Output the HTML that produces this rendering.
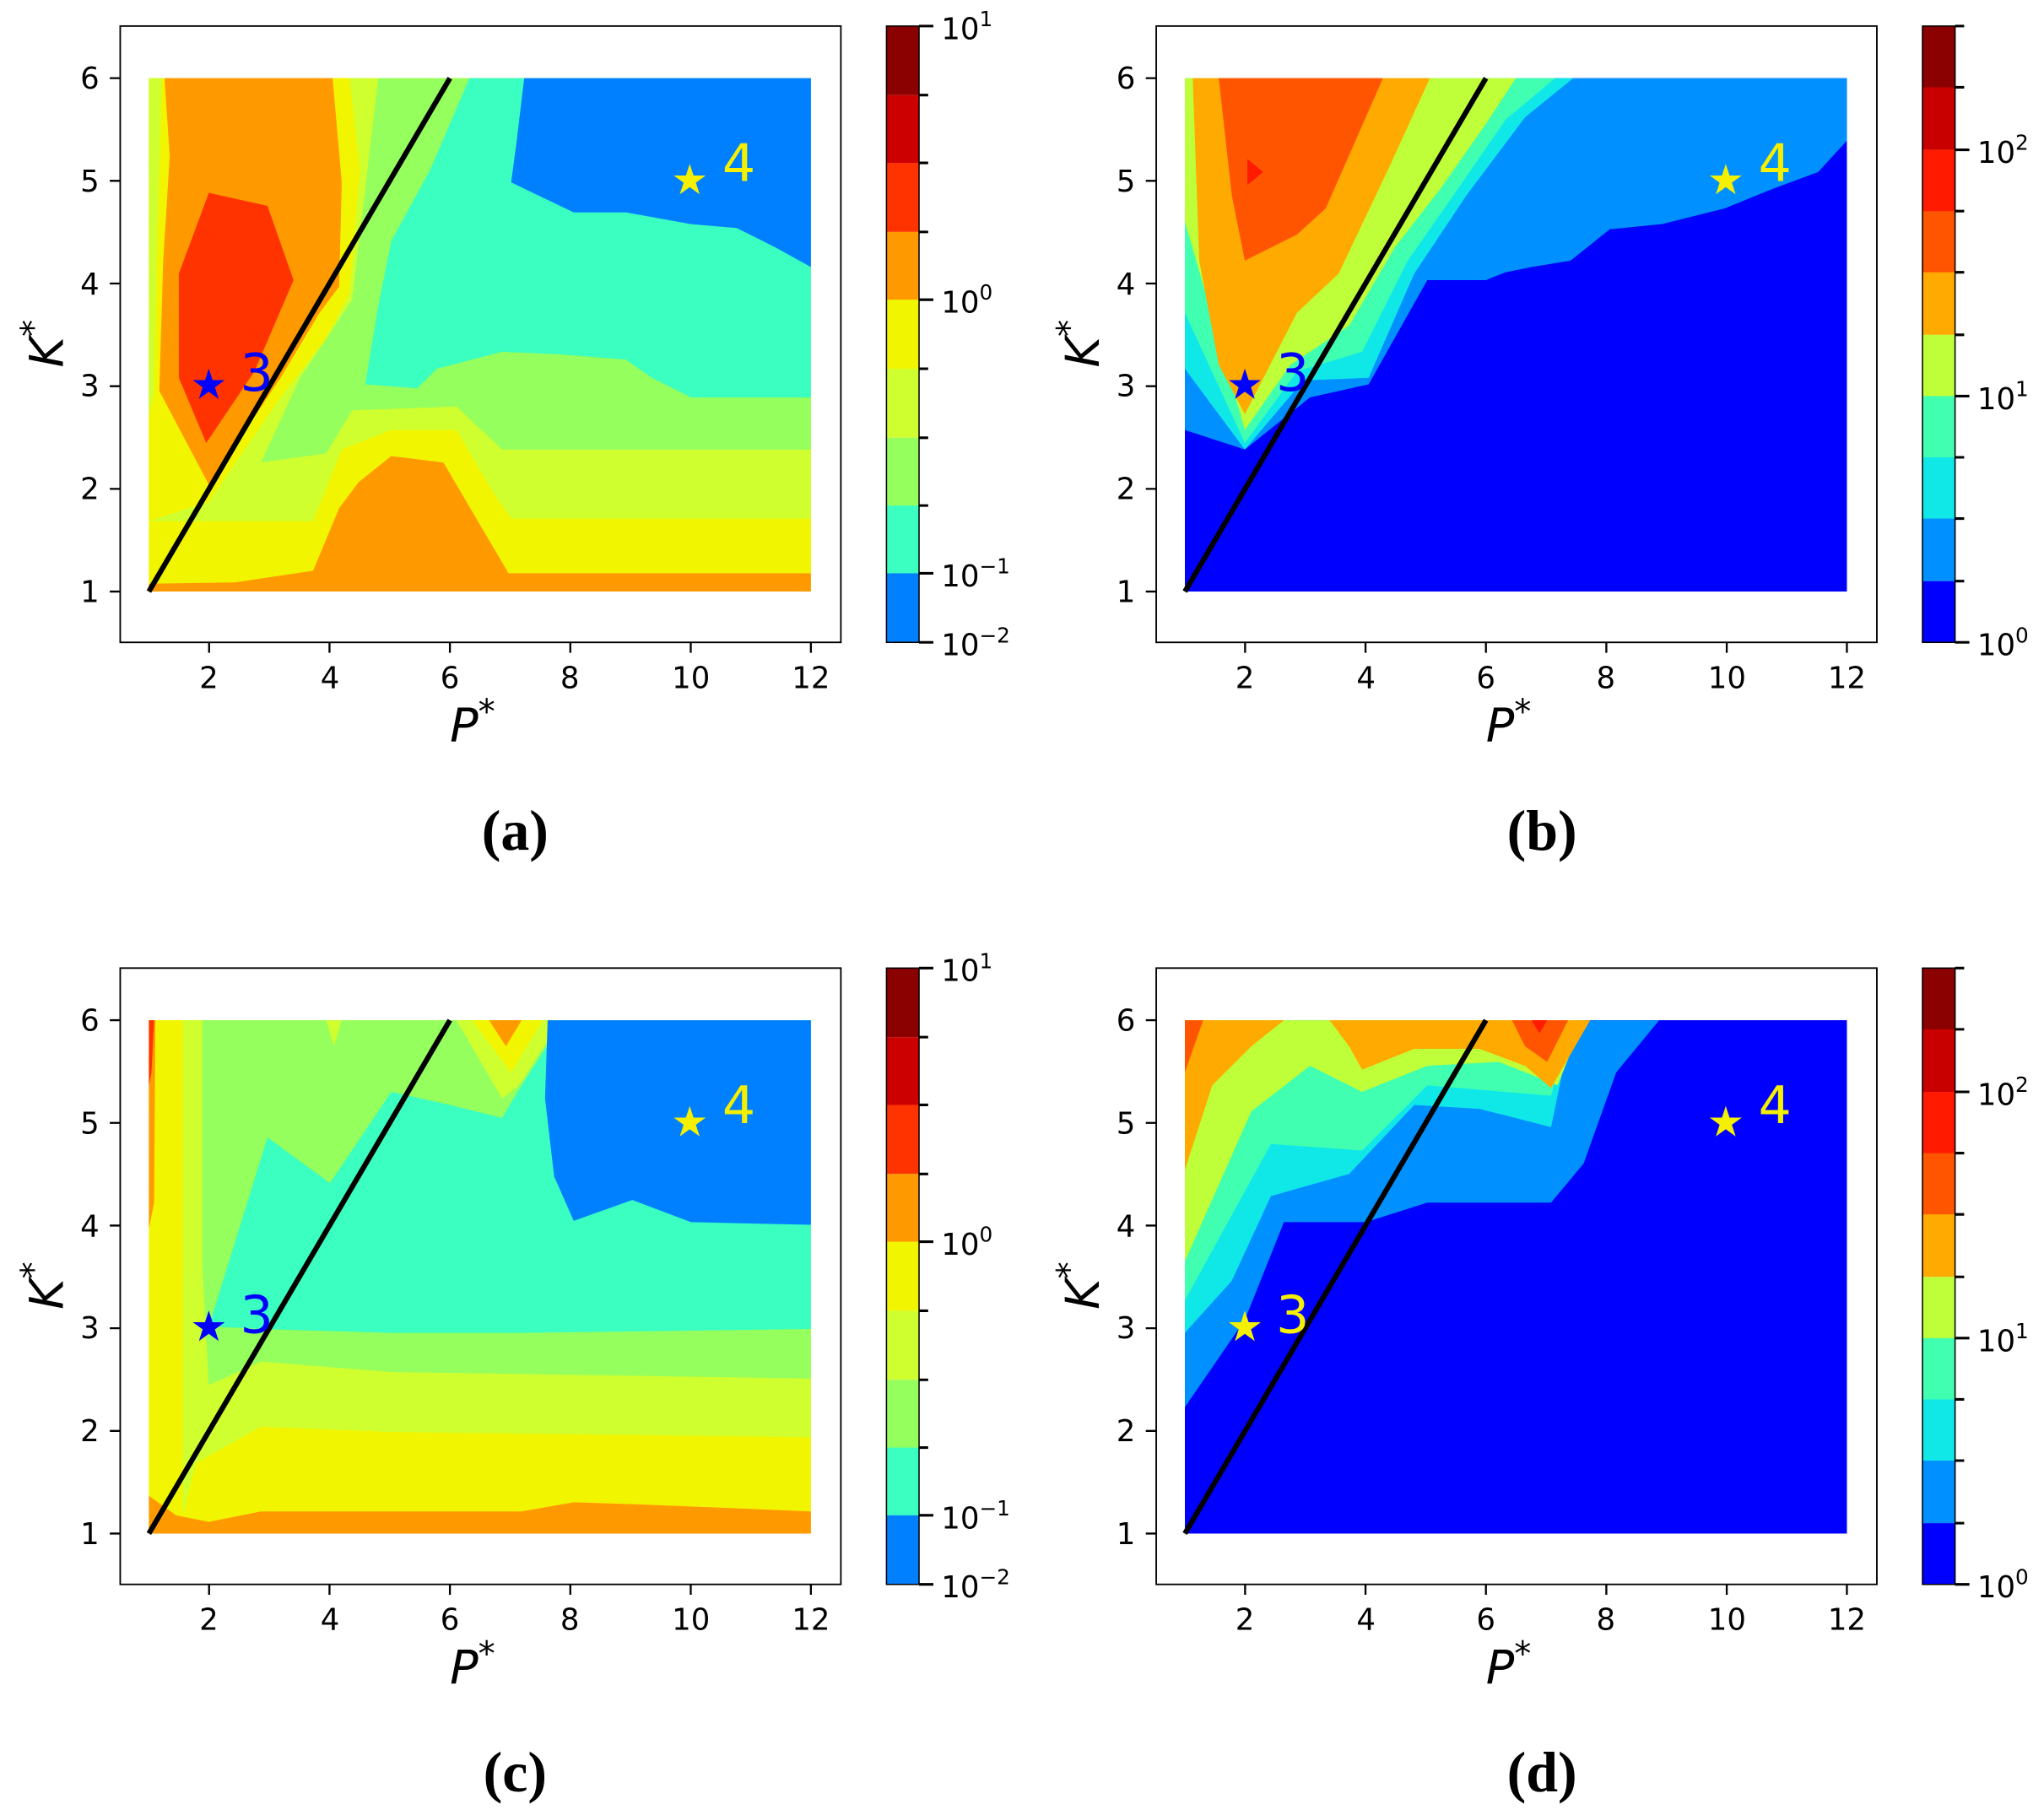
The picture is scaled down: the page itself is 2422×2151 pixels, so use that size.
<!DOCTYPE html>
<html><head><meta charset="utf-8"><style>html,body{margin:0;padding:0;background:#fff}svg{display:block}</style></head><body>
<svg xmlns="http://www.w3.org/2000/svg" width="2422" height="2151" viewBox="0 0 1568 1393" font-family="'DejaVu Sans','Liberation Sans',sans-serif">
<rect width="1568" height="1393" fill="#fff"/>

<!-- PANEL A -->
<g>
<rect x="114" y="60" width="508" height="394" fill="#f2f500"/>
<polygon fill="#cfff2f" points="114,400 240,400 262,345 300,330 350,330 390,398 622,398 622,60 114,60"/>
<polygon fill="#95ff5e" points="200,355 250,348 270,315 350,312 385,345 622,345 622,60 290,60 270,230 230,290"/>
<polygon fill="#3affc0" points="280,295 320,298 335,283 385,270 430,272 480,276 500,290 530,305 622,305 622,60 360,60 330,130 300,185 290,235"/>
<polygon fill="#0080ff" points="402,60 622,60 622,205 595,190 565,175 530,172 480,163 440,163 392,140 396,110"/>
<polygon fill="#f2f500" points="114,60 268,60 276,130 268,225 250,260 215,305 160,385 114,400"/>
<polygon fill="#cfff2f" points="114,60 124,60 120,200 118,300 114,320"/>
<polygon fill="#ff9900" points="126,60 255,60 262,140 260,220 245,240 215,290 160,372 122,300 125,200 130,120"/>
<polygon fill="#ff3300" points="137,290 158,340 195,285 225,215 205,158 160,148 137,210"/>
<polygon fill="#f2f500" points="114,406 240,404 270,350 300,340 350,340 395,402 622,400 622,454 114,454"/>
<polygon fill="#ff9900" points="114,448 180,447 240,438 260,390 275,370 300,350 340,355 390,440 622,440 622,454 114,454"/>
<line x1="114" y1="454" x2="345" y2="60" stroke="#000" stroke-width="4"/>
<text x="160" y="306" font-size="32" fill="#0000ff" text-anchor="middle">★</text>
<text x="184" y="300" font-size="40" fill="#0000ff">3</text>
<text x="529" y="149" font-size="32" fill="#f5f000" text-anchor="middle">★</text>
<text x="554" y="139" font-size="40" fill="#f5f000">4</text>
</g>

<!-- PANEL B -->
<g transform="translate(795,0)">
<rect x="114" y="60" width="508" height="394" fill="#0000ff"/>
<polygon fill="#0090ff" points="114,330 160,345 210,305 255,295 300,215 345,215 360,209 380,205 410,200 440,176 480,172 528,160 565,145 600,132 622,108 622,60 114,60"/>
<polygon fill="#10e8e8" points="114,283 160,345 205,292 255,290 290,210 330,150 375,90 412,60 114,60"/>
<polygon fill="#40ffb0" points="114,240 160,340 200,285 250,270 285,200 320,150 360,92 398,60 114,60"/>
<polygon fill="#bfff3a" points="114,170 140,260 160,330 195,280 240,250 275,190 310,145 345,95 368,60 114,60"/>
<polygon fill="#ffaa00" points="120,60 302,60 270,130 232,210 200,240 160,318 140,280 125,200"/>
<polygon fill="#ff5500" points="140,60 266,60 222,160 200,180 160,200 150,150"/>
<polygon fill="#ff1a00" points="162,122 174,132 162,142"/>
<line x1="114" y1="454" x2="345" y2="60" stroke="#000" stroke-width="4"/>
<text x="160" y="306" font-size="32" fill="#0000ff" text-anchor="middle">★</text>
<text x="184" y="300" font-size="40" fill="#0000ff">3</text>
<text x="529" y="149" font-size="32" fill="#f5f000" text-anchor="middle">★</text>
<text x="554" y="139" font-size="40" fill="#f5f000">4</text>
</g>

<!-- PANEL C -->
<g transform="translate(0,723)">
<rect x="114" y="60" width="508" height="394" fill="#f2f500"/>
<polygon fill="#cfff2f" points="140,440 150,400 200,372 300,376 622,380 622,60 140,60 140,300"/>
<polygon fill="#95ff5e" points="160,340 200,322 300,330 622,335 622,60 155,60 155,250"/>
<polygon fill="#3affc0" points="160,295 200,297 300,300 400,300 622,297 622,60 432,60 400,110 385,135 345,125 300,115 253,185 205,150"/>
<polygon fill="#cfff2f" points="250,60 256,80 262,60"/>
<polygon fill="#cfff2f" points="350,60 430,60 398,110 385,120"/>
<polygon fill="#f2f500" points="362,60 416,60 392,100"/>
<polygon fill="#ff9900" points="375,60 400,60 388,80"/>
<polygon fill="#0080ff" points="420,60 622,60 622,217 530,215 485,198 440,214 425,180 418,120"/>
<polygon fill="#ff9900" points="114,454 114,425 135,440 160,445 200,437 300,437 400,437 440,430 500,432 622,437 622,454"/>
<polygon fill="#ff9900" points="114,60 119,60 118,200 114,220"/>
<polygon fill="#ff3300" points="114,60 118,60 116,100 114,110"/>
<line x1="114" y1="454" x2="345" y2="60" stroke="#000" stroke-width="4"/>
<text x="160" y="306" font-size="32" fill="#0000ff" text-anchor="middle">★</text>
<text x="184" y="300" font-size="40" fill="#0000ff">3</text>
<text x="529" y="149" font-size="32" fill="#f5f000" text-anchor="middle">★</text>
<text x="554" y="139" font-size="40" fill="#f5f000">4</text>
</g>

<!-- PANEL D -->
<g transform="translate(795,723)">
<rect x="114" y="60" width="508" height="394" fill="#0000ff"/>
<polygon fill="#0090ff" points="114,357 160,290 190,215 253,215 300,200 395,200 420,170 445,100 478,60 114,60"/>
<polygon fill="#10e8e8" points="114,300 150,260 180,195 240,178 290,125 340,128 395,142 412,60 114,60"/>
<polygon fill="#40ffb0" points="114,275 180,155 250,160 300,110 395,118 410,60 114,60"/>
<polygon fill="#bfff3a" points="114,245 165,130 210,95 250,115 300,95 355,92 400,110 420,60 114,60"/>
<polygon fill="#ffaa00" points="114,175 135,110 165,80 190,60 114,60"/>
<polygon fill="#ffaa00" points="225,60 425,60 395,112 375,95 340,82 290,82 250,98 240,80"/>
<polygon fill="#ff5500" points="114,60 128,60 114,100"/>
<polygon fill="#ff5500" points="365,60 408,60 392,92 375,80"/>
<polygon fill="#ff1a00" points="380,60 392,60 386,70"/>
<line x1="114" y1="454" x2="345" y2="60" stroke="#000" stroke-width="4"/>
<text x="160" y="306" font-size="32" fill="#f5f000" text-anchor="middle">★</text>
<text x="184" y="300" font-size="40" fill="#f5f000">3</text>
<text x="529" y="149" font-size="32" fill="#f5f000" text-anchor="middle">★</text>
<text x="554" y="139" font-size="40" fill="#f5f000">4</text>
</g>

<!-- AXES FRAMES -->
<g font-size="23" fill="#000">
<g transform="translate(0,0)">
<rect x="92" y="20" width="553" height="473" fill="none" stroke="#000" stroke-width="1.2"/>
<path d="M84 454H92M84 375.2H92M84 296.4H92M84 217.6H92M84 138.8H92M84 60H92M160.2 493V501M252.6 493V501M345 493V501M437.4 493V501M529.8 493V501M622 493V501" stroke="#000" stroke-width="1.5"/>
<g text-anchor="end"><text x="76" y="462">1</text><text x="76" y="383">2</text><text x="76" y="304">3</text><text x="76" y="226">4</text><text x="76" y="147">5</text><text x="76" y="68">6</text></g>
<g text-anchor="middle"><text x="160" y="528">2</text><text x="253" y="528">4</text><text x="345" y="528">6</text><text x="437" y="528">8</text><text x="530" y="528">10</text><text x="622" y="528">12</text></g>
<text x="345" y="569" font-size="36" font-style="italic">P<tspan font-size="26" dy="-14" font-style="normal">*</tspan></text>
<text transform="translate(48,282) rotate(-90)" font-size="36" font-style="italic">K<tspan font-size="26" dy="-14" font-style="normal">*</tspan></text>
</g>
<g transform="translate(795,0)">
<rect x="92" y="20" width="553" height="473" fill="none" stroke="#000" stroke-width="1.2"/>
<path d="M84 454H92M84 375.2H92M84 296.4H92M84 217.6H92M84 138.8H92M84 60H92M160.2 493V501M252.6 493V501M345 493V501M437.4 493V501M529.8 493V501M622 493V501" stroke="#000" stroke-width="1.5"/>
<g text-anchor="end"><text x="76" y="462">1</text><text x="76" y="383">2</text><text x="76" y="304">3</text><text x="76" y="226">4</text><text x="76" y="147">5</text><text x="76" y="68">6</text></g>
<g text-anchor="middle"><text x="160" y="528">2</text><text x="253" y="528">4</text><text x="345" y="528">6</text><text x="437" y="528">8</text><text x="530" y="528">10</text><text x="622" y="528">12</text></g>
<text x="345" y="569" font-size="36" font-style="italic">P<tspan font-size="26" dy="-14" font-style="normal">*</tspan></text>
<text transform="translate(48,282) rotate(-90)" font-size="36" font-style="italic">K<tspan font-size="26" dy="-14" font-style="normal">*</tspan></text>
</g>
<g transform="translate(0,723)">
<rect x="92" y="20" width="553" height="473" fill="none" stroke="#000" stroke-width="1.2"/>
<path d="M84 454H92M84 375.2H92M84 296.4H92M84 217.6H92M84 138.8H92M84 60H92M160.2 493V501M252.6 493V501M345 493V501M437.4 493V501M529.8 493V501M622 493V501" stroke="#000" stroke-width="1.5"/>
<g text-anchor="end"><text x="76" y="462">1</text><text x="76" y="383">2</text><text x="76" y="304">3</text><text x="76" y="226">4</text><text x="76" y="147">5</text><text x="76" y="68">6</text></g>
<g text-anchor="middle"><text x="160" y="528">2</text><text x="253" y="528">4</text><text x="345" y="528">6</text><text x="437" y="528">8</text><text x="530" y="528">10</text><text x="622" y="528">12</text></g>
<text x="345" y="569" font-size="36" font-style="italic">P<tspan font-size="26" dy="-14" font-style="normal">*</tspan></text>
<text transform="translate(48,282) rotate(-90)" font-size="36" font-style="italic">K<tspan font-size="26" dy="-14" font-style="normal">*</tspan></text>
</g>
<g transform="translate(795,723)">
<rect x="92" y="20" width="553" height="473" fill="none" stroke="#000" stroke-width="1.2"/>
<path d="M84 454H92M84 375.2H92M84 296.4H92M84 217.6H92M84 138.8H92M84 60H92M160.2 493V501M252.6 493V501M345 493V501M437.4 493V501M529.8 493V501M622 493V501" stroke="#000" stroke-width="1.5"/>
<g text-anchor="end"><text x="76" y="462">1</text><text x="76" y="383">2</text><text x="76" y="304">3</text><text x="76" y="226">4</text><text x="76" y="147">5</text><text x="76" y="68">6</text></g>
<g text-anchor="middle"><text x="160" y="528">2</text><text x="253" y="528">4</text><text x="345" y="528">6</text><text x="437" y="528">8</text><text x="530" y="528">10</text><text x="622" y="528">12</text></g>
<text x="345" y="569" font-size="36" font-style="italic">P<tspan font-size="26" dy="-14" font-style="normal">*</tspan></text>
<text transform="translate(48,282) rotate(-90)" font-size="36" font-style="italic">K<tspan font-size="26" dy="-14" font-style="normal">*</tspan></text>
</g>
</g>

<!-- COLORBARS A/C -->
<g>
<rect x="680" y="20" width="25" height="53" fill="#8b0000"/>
<rect x="680" y="73" width="25" height="53" fill="#cc0000"/>
<rect x="680" y="125" width="25" height="53" fill="#ff3300"/>
<rect x="680" y="178" width="25" height="53" fill="#ff9900"/>
<rect x="680" y="230" width="25" height="53" fill="#f2f500"/>
<rect x="680" y="283" width="25" height="53" fill="#cfff2f"/>
<rect x="680" y="336" width="25" height="53" fill="#95ff5e"/>
<rect x="680" y="388" width="25" height="53" fill="#3affc0"/>
<rect x="680" y="440" width="25" height="53" fill="#0080ff"/>
<rect x="680" y="20" width="25" height="473" fill="none" stroke="#000" stroke-width="1"/>
<path d="M705 20H716M705 73H712M705 125H712M705 178H712M705 230H716M705 283H712M705 336H712M705 388H712M705 440H716M705 493H716" stroke="#000" stroke-width="2"/>
<g font-size="23"><text x="722" y="30">10<tspan font-size="16" dy="-10">1</tspan></text>
<text x="722" y="240">10<tspan font-size="16" dy="-10">0</tspan></text>
<text x="722" y="450">10<tspan font-size="16" dy="-10">−1</tspan></text>
<text x="722" y="503">10<tspan font-size="16" dy="-10">−2</tspan></text></g>
</g>
<g transform="translate(0,723)">
<rect x="680" y="20" width="25" height="53" fill="#8b0000"/>
<rect x="680" y="73" width="25" height="53" fill="#cc0000"/>
<rect x="680" y="125" width="25" height="53" fill="#ff3300"/>
<rect x="680" y="178" width="25" height="53" fill="#ff9900"/>
<rect x="680" y="230" width="25" height="53" fill="#f2f500"/>
<rect x="680" y="283" width="25" height="53" fill="#cfff2f"/>
<rect x="680" y="336" width="25" height="53" fill="#95ff5e"/>
<rect x="680" y="388" width="25" height="53" fill="#3affc0"/>
<rect x="680" y="440" width="25" height="53" fill="#0080ff"/>
<rect x="680" y="20" width="25" height="473" fill="none" stroke="#000" stroke-width="1"/>
<path d="M705 20H716M705 73H712M705 125H712M705 178H712M705 230H716M705 283H712M705 336H712M705 388H712M705 440H716M705 493H716" stroke="#000" stroke-width="2"/>
<g font-size="23"><text x="722" y="30">10<tspan font-size="16" dy="-10">1</tspan></text>
<text x="722" y="240">10<tspan font-size="16" dy="-10">0</tspan></text>
<text x="722" y="450">10<tspan font-size="16" dy="-10">−1</tspan></text>
<text x="722" y="503">10<tspan font-size="16" dy="-10">−2</tspan></text></g>
</g>

<!-- COLORBARS B/D -->
<g transform="translate(795,0)">
<rect x="680" y="20" width="25" height="48" fill="#8b0000"/>
<rect x="680" y="67" width="25" height="48" fill="#c80000"/>
<rect x="680" y="115" width="25" height="48" fill="#ff1a00"/>
<rect x="680" y="162" width="25" height="48" fill="#ff5500"/>
<rect x="680" y="209" width="25" height="48" fill="#ffaa00"/>
<rect x="680" y="257" width="25" height="48" fill="#bfff3a"/>
<rect x="680" y="304" width="25" height="48" fill="#40ffb0"/>
<rect x="680" y="351" width="25" height="48" fill="#10e8e8"/>
<rect x="680" y="398" width="25" height="48" fill="#0090ff"/>
<rect x="680" y="446" width="25" height="47" fill="#0000ff"/>
<rect x="680" y="20" width="25" height="473" fill="none" stroke="#000" stroke-width="1"/>
<path d="M705 20H712M705 67H712M705 115H716M705 162H712M705 209H712M705 257H712M705 304H716M705 351H712M705 398H712M705 446H712M705 493H716" stroke="#000" stroke-width="2"/>
<g font-size="23"><text x="722" y="125">10<tspan font-size="16" dy="-10">2</tspan></text>
<text x="722" y="314">10<tspan font-size="16" dy="-10">1</tspan></text>
<text x="722" y="503">10<tspan font-size="16" dy="-10">0</tspan></text></g>
</g>
<g transform="translate(795,723)">
<rect x="680" y="20" width="25" height="48" fill="#8b0000"/>
<rect x="680" y="67" width="25" height="48" fill="#c80000"/>
<rect x="680" y="115" width="25" height="48" fill="#ff1a00"/>
<rect x="680" y="162" width="25" height="48" fill="#ff5500"/>
<rect x="680" y="209" width="25" height="48" fill="#ffaa00"/>
<rect x="680" y="257" width="25" height="48" fill="#bfff3a"/>
<rect x="680" y="304" width="25" height="48" fill="#40ffb0"/>
<rect x="680" y="351" width="25" height="48" fill="#10e8e8"/>
<rect x="680" y="398" width="25" height="48" fill="#0090ff"/>
<rect x="680" y="446" width="25" height="47" fill="#0000ff"/>
<rect x="680" y="20" width="25" height="473" fill="none" stroke="#000" stroke-width="1"/>
<path d="M705 20H712M705 67H712M705 115H716M705 162H712M705 209H712M705 257H712M705 304H716M705 351H712M705 398H712M705 446H712M705 493H716" stroke="#000" stroke-width="2"/>
<g font-size="23"><text x="722" y="125">10<tspan font-size="16" dy="-10">2</tspan></text>
<text x="722" y="314">10<tspan font-size="16" dy="-10">1</tspan></text>
<text x="722" y="503">10<tspan font-size="16" dy="-10">0</tspan></text></g>
</g>

<!-- CAPTIONS -->
<g font-family="'Liberation Serif',serif" font-weight="bold" font-size="44" text-anchor="middle">
<text x="395" y="652">(a)</text>
<text x="1183" y="652">(b)</text>
<text x="395" y="1375">(c)</text>
<text x="1183" y="1375">(d)</text>
</g>
</svg>
</body></html>
